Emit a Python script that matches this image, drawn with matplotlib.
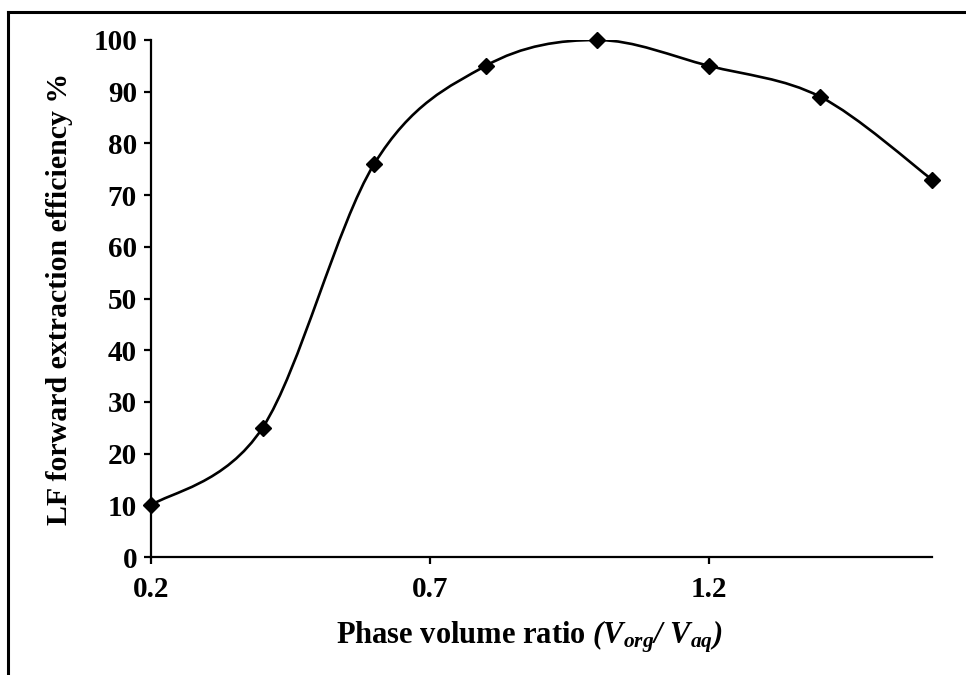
import matplotlib.pyplot as plt
from matplotlib.path import Path
from matplotlib.patches import PathPatch
from matplotlib.lines import Line2D

# phase volume ratio vs extraction efficiency
ratio = [0.2, 0.4, 0.6, 0.8, 1.0, 1.2, 1.4, 1.6]
efficiency = [10, 25, 76, 95, 100, 95, 89, 73]
xticks = [0.2, 0.7, 1.2]
yticks = list(range(0, 101, 10))

plt.rcParams['font.family'] = ['Liberation Serif', 'DejaVu Serif']
plt.rcParams['mathtext.fontset'] = 'custom'
plt.rcParams['mathtext.rm'] = 'Liberation Serif:italic:bold'
plt.rcParams['mathtext.it'] = 'Liberation Serif:italic:bold'
plt.rcParams['mathtext.bf'] = 'Liberation Serif:bold'

fig = plt.figure(figsize=(9.66, 6.75), dpi=100)
ax = fig.add_axes([151/966, 1 - 557/675, (932-151)/966, (557-40)/675])


# smooth line like excel (bezier through each point)
def smooth_path(xs, ys, k=1/6):
    verts = [(xs[0], ys[0])]
    codes = [Path.MOVETO]
    n = len(xs)
    for i in range(n - 1):
        x0, y0 = xs[max(i-1, 0)], ys[max(i-1, 0)]
        x1, y1 = xs[i], ys[i]
        x2, y2 = xs[i+1], ys[i+1]
        x3, y3 = xs[min(i+2, n-1)], ys[min(i+2, n-1)]
        c1 = (x1 + (x2 - x0) * k, y1 + (y2 - y0) * k)
        c2 = (x2 - (x3 - x1) * k, y2 - (y3 - y1) * k)
        verts += [c1, c2, (x2, y2)]
        codes += [Path.CURVE4] * 3
    return Path(verts, codes)


ax.add_patch(PathPatch(smooth_path(ratio, efficiency), fill=False,
                       edgecolor='black', lw=1.9, zorder=2))
ax.plot(ratio, efficiency, ls='none', marker='D', ms=8.5, color='black',
        zorder=3, clip_on=False)

ax.set_xlim(0.2, 1.6)
ax.set_ylim(0, 100)
ax.set_xticks(xticks)
ax.set_xticklabels([str(t) for t in xticks])
ax.set_yticks(yticks)

for s in ['top', 'right']:
    ax.spines[s].set_visible(False)
for s in ['left', 'bottom']:
    ax.spines[s].set_linewidth(1.6)
ax.tick_params(direction='out', length=5, width=1.6, labelsize=21)
ax.tick_params(axis='y', pad=5)
ax.tick_params(axis='x', pad=9)
for lab in ax.get_xticklabels() + ax.get_yticklabels():
    lab.set_fontweight('bold')

ax.set_ylabel('LF forward extraction efficiency %', fontsize=21.5, fontweight='bold')
ax.yaxis.set_label_coords(-(151 - 60) / 781, 0.5)
ax.set_xlabel(r'Phase volume ratio $(V_{org}/\ V_{aq})$', fontsize=22,
              fontweight='bold')
ax.xaxis.set_label_coords((529 - 151) / 781, -(637 - 557) / 517, )
ax.xaxis.label.set_va('center')
ax.yaxis.label.set_va('center')

# frame around the figure (only top and left visible)
fig.add_artist(Line2D([7.5/966, 1], [1 - 11.5/675, 1 - 11.5/675], color='black', lw=2.2))
fig.add_artist(Line2D([7.5/966, 7.5/966], [0, 1 - 11.5/675], color='black', lw=2.2))

fig.savefig('out.png', dpi=100)
